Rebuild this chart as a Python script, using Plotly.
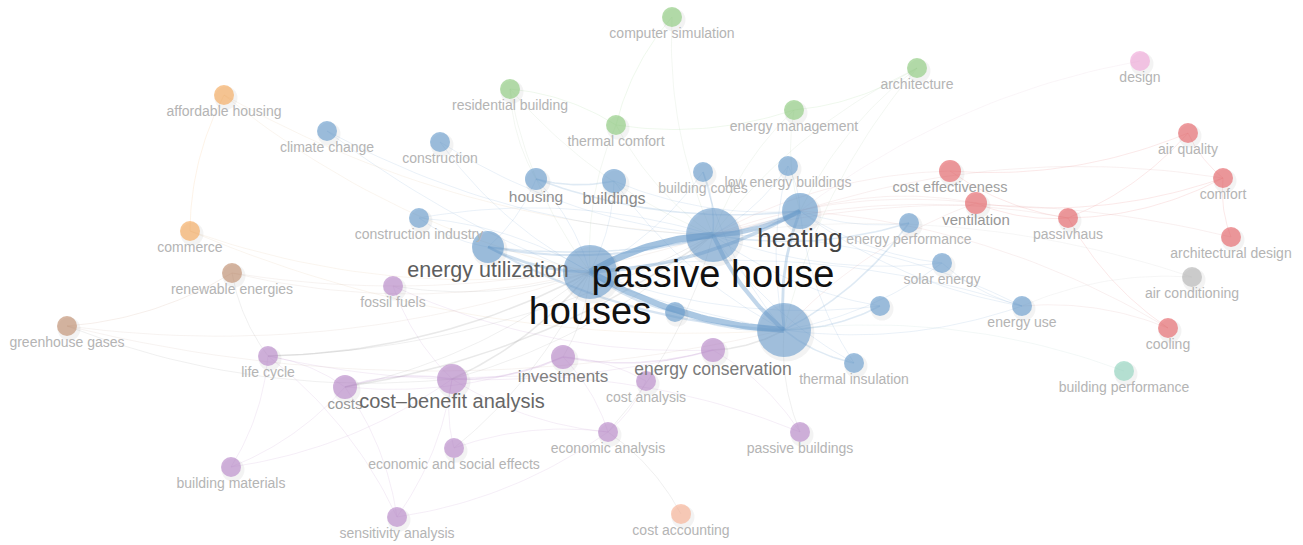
import plotly.graph_objects as go
import numpy as np

# ---------------- data ----------------
names = [
    "passive house", "houses", "energy efficiency", "heating", "energy utilization",
    "housing", "buildings", "building codes", "low energy buildings", "construction",
    "climate change", "construction industry", "energy performance", "solar energy",
    "energy saving", "energy use", "thermal insulation", "insulation",
    "computer simulation", "residential building", "thermal comfort", "energy management", "architecture",
    "affordable housing", "commerce",
    "renewable energies", "greenhouse gases",
    "fossil fuels", "life cycle", "costs", "cost–benefit analysis", "investments",
    "energy conservation", "cost analysis", "economic and social effects", "economic analysis",
    "passive buildings", "building materials", "sensitivity analysis",
    "cost accounting",
    "cost effectiveness", "ventilation", "passivhaus", "air quality", "comfort",
    "architectural design", "cooling",
    "air conditioning", "building performance", "design",
]
label_shown = [
    1, 1, 0, 1, 1,
    1, 1, 1, 1, 1,
    1, 1, 1, 1,
    0, 1, 1, 0,
    1, 1, 1, 1, 1,
    1, 1,
    1, 1,
    1, 1, 1, 1, 1,
    1, 1, 1, 1,
    1, 1, 1,
    1,
    1, 1, 1, 1, 1,
    1, 1,
    1, 1, 1,
]
node_x = [
    713, 590, 784, 800, 488,
    536, 614, 703, 788, 440,
    327, 419, 909, 942,
    880, 1022, 854, 675,
    672, 510, 616, 794, 917,
    224, 190,
    232, 67,
    393, 268, 345, 452, 563,
    713, 646, 454, 608,
    800, 231, 397,
    681,
    950, 976, 1068, 1188, 1223,
    1231, 1168,
    1192, 1124, 1140,
]
node_y = [
    235, 272, 330, 211, 247,
    179, 181, 172, 166, 142,
    131, 218, 223, 263,
    306, 306, 363, 312,
    17, 89, 125, 110, 68,
    95, 231,
    273, 326,
    286, 356, 387, 379, 357,
    350, 381, 448, 432,
    432, 467, 517,
    514,
    171, 203, 218, 133, 178,
    237, 328,
    277, 371, 61,
]
node_r = [
    27, 27, 27, 18, 16,
    11, 12, 10, 10, 10,
    10, 10, 10, 10,
    10, 10, 10, 10,
    10, 10, 10, 10, 10,
    10, 10,
    10, 10,
    10, 10, 12, 15, 12,
    12, 10, 10, 10,
    10, 10, 10,
    10,
    11, 11, 10, 10, 10,
    10, 10,
    10, 10, 10,
]
cluster = [
    "blue", "blue", "blue", "blue", "blue",
    "blue", "blue", "blue", "blue", "blue",
    "blue", "blue", "blue", "blue",
    "blue", "blue", "blue", "blue",
    "green", "green", "green", "green", "green",
    "orange", "orange",
    "brown", "brown",
    "purple", "purple", "purple", "purple", "purple",
    "purple", "purple", "purple", "purple",
    "purple", "purple", "purple",
    "salmon",
    "red", "red", "red", "red", "red",
    "red", "red",
    "gray", "teal", "pink",
]
label_size = [
    38, 38, 14, 26, 21.5,
    15.5, 16, 14, 14, 14,
    14, 14, 14, 14,
    14, 14, 14, 14,
    14, 14, 14, 14, 14,
    14, 14,
    14, 14,
    14, 14, 15, 20, 17,
    17.5, 14, 14, 14,
    14, 14, 14,
    14,
    14.5, 15, 14, 14, 14,
    14, 14,
    14, 14, 14,
]

edges = [
    ("passive house", "houses", 10), ("passive house", "heating", 7),
    ("houses", "energy efficiency", 9), ("passive house", "energy efficiency", 6),
    ("houses", "heating", 5), ("heating", "energy efficiency", 4),
    ("energy utilization", "houses", 4), ("energy utilization", "passive house", 3),
    ("energy utilization", "energy efficiency", 3), ("houses", "insulation", 3),
    ("insulation", "energy efficiency", 2), ("energy efficiency", "energy performance", 2),
    ("passive house", "energy performance", 2), ("energy efficiency", "energy saving", 2),
    ("energy efficiency", "thermal insulation", 2), ("passive house", "thermal insulation", 1),
    ("housing", "buildings", 2), ("housing", "heating", 2), ("buildings", "heating", 1),
    ("passive house", "building codes", 2), ("houses", "building codes", 1),
    ("heating", "low energy buildings", 1), ("passive house", "low energy buildings", 1),
    ("houses", "housing", 1), ("houses", "buildings", 1), ("passive house", "solar energy", 1),
    ("heating", "energy performance", 1), ("heating", "energy use", 1),
    ("energy efficiency", "energy use", 1), ("energy efficiency", "solar energy", 1),
    ("houses", "construction industry", 1), ("passive house", "construction industry", 1),
    ("construction", "passive house", 1), ("construction", "houses", 1),
    ("climate change", "passive house", 1), ("climate change", "energy efficiency", 1),
    ("construction industry", "energy utilization", 1), ("energy utilization", "heating", 2),
    ("energy utilization", "housing", 1), ("passive house", "energy saving", 1),
    ("houses", "energy saving", 1), ("heating", "solar energy", 1),
    ("heating", "thermal insulation", 1), ("energy use", "passive house", 1),
    ("energy use", "houses", 1), ("buildings", "energy efficiency", 1),
    ("energy efficiency", "passive buildings", 1), ("building codes", "energy efficiency", 1),
    ("low energy buildings", "energy efficiency", 1), ("solar energy", "energy use", 1),
    ("cost–benefit analysis", "costs", 2), ("cost–benefit analysis", "investments", 2),
    ("investments", "energy conservation", 2), ("costs", "life cycle", 1),
    ("costs", "investments", 1), ("cost–benefit analysis", "economic and social effects", 1),
    ("cost–benefit analysis", "economic analysis", 1), ("economic analysis", "economic and social effects", 1),
    ("economic analysis", "investments", 1), ("economic analysis", "cost analysis", 1),
    ("cost analysis", "investments", 1), ("sensitivity analysis", "costs", 1),
    ("sensitivity analysis", "cost–benefit analysis", 1), ("sensitivity analysis", "economic analysis", 1),
    ("sensitivity analysis", "life cycle", 1), ("building materials", "costs", 1),
    ("building materials", "life cycle", 1), ("building materials", "cost–benefit analysis", 1),
    ("passive buildings", "energy conservation", 1), ("passive buildings", "cost–benefit analysis", 1),
    ("life cycle", "energy conservation", 1), ("fossil fuels", "cost–benefit analysis", 1),
    ("fossil fuels", "energy conservation", 1), ("energy conservation", "energy efficiency", 2),
    ("life cycle", "houses", 2), ("costs", "passive house", 2), ("costs", "houses", 1),
    ("life cycle", "passive house", 1), ("cost–benefit analysis", "houses", 2),
    ("cost–benefit analysis", "passive house", 1), ("investments", "houses", 1),
    ("economic and social effects", "houses", 1), ("economic analysis", "passive house", 1),
    ("cost accounting", "economic analysis", 1), ("fossil fuels", "houses", 1),
    ("cost effectiveness", "passivhaus", 1), ("cost effectiveness", "air quality", 1),
    ("ventilation", "comfort", 1), ("ventilation", "passivhaus", 1),
    ("passivhaus", "comfort", 1), ("passivhaus", "air quality", 1),
    ("air quality", "comfort", 1), ("comfort", "architectural design", 1),
    ("passivhaus", "cooling", 1), ("ventilation", "heating", 1),
    ("cost effectiveness", "passive house", 1), ("ventilation", "passive house", 1),
    ("passivhaus", "passive house", 1), ("comfort", "heating", 1),
    ("architectural design", "passive house", 1), ("cooling", "heating", 1),
    ("cooling", "energy use", 1), ("air conditioning", "energy use", 1),
    ("air conditioning", "passive house", 1), ("ventilation", "energy efficiency", 1),
    ("computer simulation", "thermal comfort", 1), ("computer simulation", "passive house", 1),
    ("thermal comfort", "residential building", 1), ("thermal comfort", "energy management", 1),
    ("energy management", "architecture", 1), ("residential building", "houses", 1),
    ("residential building", "passive house", 1), ("residential building", "housing", 1),
    ("thermal comfort", "passive house", 1), ("thermal comfort", "houses", 1),
    ("energy management", "heating", 1), ("energy management", "passive house", 1),
    ("architecture", "passive house", 1), ("architecture", "heating", 1),
    ("architecture", "energy efficiency", 1),
    ("affordable housing", "commerce", 1), ("affordable housing", "passive house", 1),
    ("affordable housing", "houses", 1), ("commerce", "houses", 1),
    ("commerce", "energy efficiency", 1),
    ("greenhouse gases", "renewable energies", 1), ("greenhouse gases", "houses", 1),
    ("greenhouse gases", "energy efficiency", 1), ("greenhouse gases", "cost–benefit analysis", 1),
    ("renewable energies", "houses", 1), ("renewable energies", "life cycle", 1),
    ("renewable energies", "passive house", 1),
    ("design", "heating", 1), ("building performance", "energy efficiency", 1),
]

# ---------------- styles ----------------
cluster_rgb = {
    "blue": (104, 155, 203), "green": (140, 202, 124), "orange": (244, 168, 90),
    "brown": (192, 142, 110), "purple": (184, 136, 201), "salmon": (247, 176, 146),
    "red": (229, 98, 102), "gray": (180, 180, 180), "teal": (144, 212, 190),
    "pink": (240, 166, 216),
}
idx = {n: i for i, n in enumerate(names)}

fig = go.Figure()

# edges (curved)
for s, t, w in sorted(edges, key=lambda e: e[2]):
    i, j = idx[s], idx[t]
    x0, y0, x1, y1 = node_x[i], node_y[i], node_x[j], node_y[j]
    dx, dy = x1 - x0, y1 - y0
    cx = (x0 + x1) / 2 - dy * 0.12
    cy = (y0 + y1) / 2 + dx * 0.12
    tt = np.linspace(0, 1, 30)
    bx = (1 - tt) ** 2 * x0 + 2 * (1 - tt) * tt * cx + tt ** 2 * x1
    by = (1 - tt) ** 2 * y0 + 2 * (1 - tt) * tt * cy + tt ** 2 * y1
    if cluster[i] == cluster[j]:
        r, g, b = cluster_rgb[cluster[i]]
    elif cluster[i] == "purple" or cluster[j] == "purple":
        r, g, b = (150, 150, 150)
    else:
        r, g, b = cluster_rgb[cluster[i]]
        r, g, b = (r + 200) // 2, (g + 200) // 2, (b + 200) // 2
    alpha = 0.16 + 0.05 * (w - 1)
    width = 0.9 + 0.65 * (w - 1)
    fig.add_trace(go.Scatter(
        x=bx, y=by, mode="lines",
        line=dict(color=f"rgba({r},{g},{b},{alpha:.2f})", width=width),
        hoverinfo="skip", showlegend=False))

# node shadows
fig.add_trace(go.Scatter(
    x=[x + 2 for x in node_x], y=[y + 3 for y in node_y], mode="markers",
    marker=dict(size=[2 * r + 3 for r in node_r], color="rgba(0,0,0,0.07)", line=dict(width=0)),
    hoverinfo="skip", showlegend=False))

# nodes
node_colors = []
for c, r in zip(cluster, node_r):
    rr, gg, bb = cluster_rgb[c]
    a = 0.85 if r > 20 else 0.92
    node_colors.append(f"rgba({rr},{gg},{bb},{a})")
fig.add_trace(go.Scatter(
    x=node_x, y=node_y, mode="markers",
    marker=dict(size=[2 * r for r in node_r], color=node_colors, line=dict(width=0)),
    text=names, hoverinfo="text", showlegend=False))

# labels
lx, ly, lt, ls, lc = [], [], [], [], []
for n, x, y, fs, sh in zip(names, node_x, node_y, label_size, label_shown):
    if not sh:
        continue
    lx.append(x)
    ly.append(y + 1.05 * fs + 2.5)
    lt.append(n)
    ls.append(fs)
    # darker for larger labels
    f = min(1.0, max(0.0, (fs - 14) / (38 - 14)))
    f = f ** 0.55
    g = int(180 - f * (180 - 17))
    lc.append(f"rgb({g},{g},{g})")
fig.add_trace(go.Scatter(
    x=lx, y=ly, mode="text", text=lt,
    textfont=dict(size=ls, color=lc, family="Liberation Sans, Arial, sans-serif"),
    textposition="middle center", hoverinfo="skip", showlegend=False))

fig.update_layout(
    width=1303, height=545,
    margin=dict(l=0, r=0, t=0, b=0),
    paper_bgcolor="white", plot_bgcolor="white",
    xaxis=dict(range=[0, 1303], visible=False, fixedrange=True),
    yaxis=dict(range=[545, 0], visible=False, fixedrange=True),
    showlegend=False,
)
fig.write_html("out.html")
